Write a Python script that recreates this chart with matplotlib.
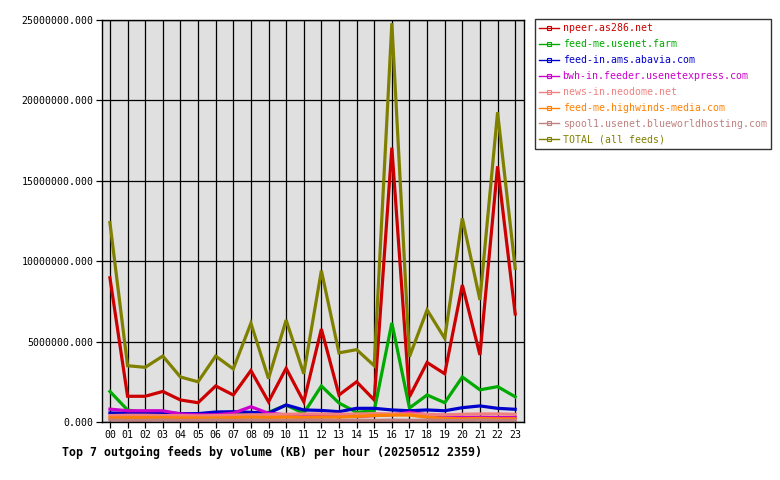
import numpy as np
import matplotlib
matplotlib.use("Agg")
import matplotlib.pyplot as plt
from matplotlib.lines import Line2D
from matplotlib.ticker import MultipleLocator, FormatStrFormatter

hours = ["%02d" % h for h in range(24)]

# values in millions of KB
npeer = [8.97, 1.6, 1.6, 1.9, 1.37, 1.2, 2.24, 1.68, 3.2, 1.26, 3.34, 1.26,
         5.78, 1.68, 2.5, 1.37, 17.06, 1.57, 3.7, 3.0, 8.52, 4.17, 15.9, 6.72]
usenet_farm = [1.9, 0.75, 0.55, 0.5, 0.3, 0.27, 0.35, 0.45, 0.5, 0.6, 1.05, 0.54,
               2.24, 1.18, 0.6, 0.7, 6.16, 0.87, 1.68, 1.2, 2.8, 2.0, 2.2, 1.57]
abavia = [0.56, 0.55, 0.55, 0.6, 0.52, 0.52, 0.62, 0.64, 0.6, 0.55, 1.06, 0.75,
          0.72, 0.64, 0.85, 0.85, 0.75, 0.7, 0.75, 0.7, 0.89, 1.0, 0.85, 0.79]
usenetexpress = [0.8, 0.7, 0.7, 0.7, 0.5, 0.45, 0.45, 0.55, 0.95, 0.54, 0.45, 0.4,
                 0.4, 0.4, 0.35, 0.4, 0.45, 0.6, 0.45, 0.35, 0.28, 0.3, 0.28, 0.28]
neodome = [0.4, 0.42, 0.42, 0.4, 0.4, 0.38, 0.4, 0.42, 0.45, 0.45, 0.48, 0.5,
           0.5, 0.48, 0.5, 0.52, 0.5, 0.5, 0.48, 0.45, 0.48, 0.5, 0.5, 0.48]
highwinds = [0.25, 0.27, 0.27, 0.27, 0.25, 0.25, 0.25, 0.27, 0.3, 0.28, 0.3, 0.28,
             0.3, 0.3, 0.35, 0.4, 0.43, 0.43, 0.3, 0.22, 0.2, 0.22, 0.2, 0.2]
blueworld = [0.12, 0.1, 0.1, 0.12, 0.1, 0.1, 0.12, 0.1, 0.12, 0.1, 0.1, 0.12,
             0.12, 0.1, 0.12, 0.1, 0.12, 0.1, 0.12, 0.1, 0.1, 0.12, 0.1, 0.1]
total = [12.4, 3.5, 3.4, 4.1, 2.8, 2.5, 4.1, 3.3, 6.14, 2.7, 6.34, 3.0,
         9.41, 4.3, 4.5, 3.5, 24.8, 4.06, 6.97, 5.2, 12.67, 7.59, 19.26, 9.56]

labels = ["npeer.as286.net", "feed-me.usenet.farm", "feed-in.ams.abavia.com",
          "bwh-in.feeder.usenetexpress.com", "news-in.neodome.net",
          "feed-me.highwinds-media.com", "spool1.usenet.blueworldhosting.com",
          "TOTAL (all feeds)"]
colors = ["#cc0000", "#00aa00", "#0000cc", "#cc00cc", "#f08080",
          "#ff8000", "#c08080", "#808000"]
series = [npeer, usenet_farm, abavia, usenetexpress, neodome,
          highwinds, blueworld, total]

plt.rcParams['font.family'] = "DejaVu Sans Mono"

fig = plt.figure(figsize=(7.8, 4.8), dpi=100)
ax = fig.add_axes([102 / 780, 1 - 422 / 480, 422 / 780, 402 / 480])
ax.set_facecolor("#e0e0e0")

x = np.arange(len(hours))
for vals, c in zip(series, colors):
    ax.plot(x, np.array(vals) * 1e6, color=c, lw=2.3, solid_joinstyle='miter')

ax.set_xlim(-0.45, 23.5)
ax.set_ylim(0, 25e6)
ax.set_xticks(x)
ax.set_xticklabels(hours)
ax.yaxis.set_major_locator(MultipleLocator(5e6))
ax.yaxis.set_major_formatter(FormatStrFormatter('%.3f'))
ax.grid(True, color="black", lw=0.9)
ax.set_axisbelow(True)
ax.tick_params(direction='out', length=4, width=0.9, labelsize=7.1, colors="black", pad=2)
for s in ax.spines.values():
    s.set_linewidth(1.0)

handles = [Line2D([0], [0], color=c, lw=1.0, marker='s', markersize=2.5,
                  markerfacecolor='none', markeredgewidth=0.8) for c in colors]
leg = fig.legend(handles, labels, loc='upper left',
                 bbox_to_anchor=(535 / 780, 1 - 19 / 480), fontsize=7.1,
                 fancybox=False, frameon=True, borderaxespad=0,
                 handlelength=2.0, handletextpad=0.35, labelspacing=0.6,
                 borderpad=0.45, markerscale=1.0)
leg.get_frame().set_edgecolor("black")
leg.get_frame().set_linewidth(1.0)
for t, c in zip(leg.get_texts(), colors):
    t.set_color(c)

fig.text(62 / 780, 1 - 452 / 480,
         "Top 7 outgoing feeds by volume (KB) per hour (20250512 2359)",
         fontsize=8.4, fontweight='bold', va='center', ha='left')

fig.savefig("out.png", dpi=100, facecolor="white")
